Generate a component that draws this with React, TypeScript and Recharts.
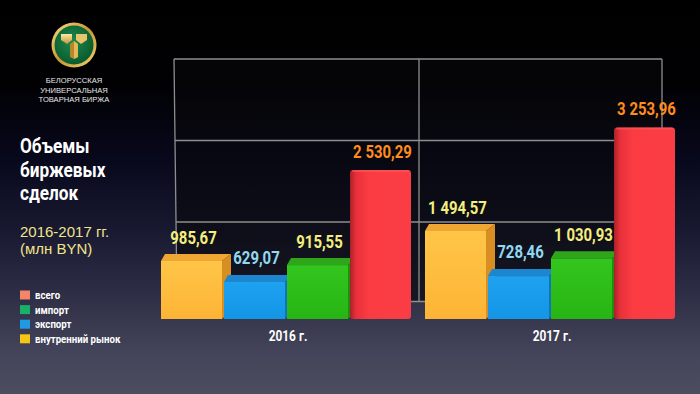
import React from 'react';
import { BarChart, Bar, XAxis, YAxis, LabelList } from 'recharts';

const years = ['2016 г.', '2017 г.'];
const domesticValues = [985.67, 1494.57];
const exportValues = [629.07, 728.46];
const importValues = [915.55, 1030.93];
const totalValues = [2530.29, 3253.96];

const legendLabels = ['всего', 'импорт', 'экспорт', 'внутренний рынок'];
const legendColors = ['#F4856B', '#17B169', '#1E9BE3', '#F6C614'];

const titleLines = ['Объемы', 'биржевых', 'сделок'];
const subtitleLines = ['2016-2017 гг.', '(млн BYN)'];
const logoLines = ['БЕЛОРУССКАЯ', 'УНИВЕРСАЛЬНАЯ', 'ТОВАРНАЯ БИРЖА'];

const data = years.map((year, i) => ({
  year,
  domestic: domesticValues[i],
  export: exportValues[i],
  import: importValues[i],
  total: totalValues[i],
}));

const COND = 'Roboto, "Noto Sans", sans-serif';
const ARIAL = '"Liberation Sans", Arial, sans-serif';

const fmt = (v: number) => {
  const [i, d] = v.toFixed(2).split('.');
  return i.replace(/\B(?=(\d{3})+(?!\d))/g, ' ') + ',' + d;
};

const NText = ({ x, y, sx, children, ...rest }: any) => (
  <text transform={`translate(${x},${y}) scale(${sx},1)`} x={0} y={0} fontFamily={COND} fontWeight={700} {...rest}>
    {children}
  </text>
);

const makeBox = (front: string, frontLight: string, top: string, side: string, id: string) => (props: any) => {
  const { x, y, width, height } = props;
  if (!height || height <= 0) return null;
  const d = 7;
  const s = 9;
  return (
    <g>
      <defs>
        <linearGradient id={id} x1="0" y1="0" x2="0" y2="1">
          <stop offset="0%" stopColor={frontLight} />
          <stop offset="100%" stopColor={front} />
        </linearGradient>
      </defs>
      <polygon
        points={`${x + width},${y} ${x + width + s},${y - d} ${x + width + s},${y + height - d - 1} ${x + width},${y + height}`}
        fill={side}
      />
      <polygon
        points={`${x},${y} ${x + width},${y} ${x + width + s},${y - d} ${x + 4},${y - d}`}
        fill={top}
      />
      <rect x={x} y={y} width={width} height={height} fill={`url(#${id})`} />
    </g>
  );
};

const RedShape = (props: any) => {
  const { x, y, width, height } = props;
  if (!height || height <= 0) return null;
  return (
    <g>
      <defs>
        <linearGradient id="redGrad" x1="0" y1="0" x2="1" y2="0">
          <stop offset="0%" stopColor="#A9222A" />
          <stop offset="10%" stopColor="#E8303A" />
          <stop offset="30%" stopColor="#FA3B42" />
          <stop offset="100%" stopColor="#FA3D45" />
        </linearGradient>
      </defs>
      <rect x={x} y={y} width={width} height={height} rx={3} ry={3} fill="url(#redGrad)" />
      <rect x={x + 2} y={y} width={width - 4} height={2} rx={1} fill="#FF5A60" opacity={0.6} />
    </g>
  );
};

const makeLabel = (color: string, gap: number) => (props: any) => {
  const { x, y, width, value } = props;
  return (
    <NText x={x + width / 2 + 2} y={y - gap} sx={0.83} textAnchor="middle" fill={color} fontSize={18}>
      {fmt(value)}
    </NText>
  );
};

const YearTick = (props: any) => {
  const { x, y, payload } = props;
  return (
    <NText x={x + 2} y={y + 14} sx={0.85} textAnchor="middle" fill="#FFFFFF" fontSize={14}>
      {payload.value}
    </NText>
  );
};

const Logo = () => (
  <g>
    <defs>
      <linearGradient id="goldRing" x1="0" y1="0" x2="1" y2="1">
        <stop offset="0%" stopColor="#F7E08A" />
        <stop offset="50%" stopColor="#C9962E" />
        <stop offset="100%" stopColor="#F2D277" />
      </linearGradient>
      <radialGradient id="greenDisc" cx="0.45" cy="0.4" r="0.6">
        <stop offset="0%" stopColor="#1C8A4C" />
        <stop offset="100%" stopColor="#0A5A2E" />
      </radialGradient>
      <linearGradient id="goldY" x1="0" y1="0" x2="0" y2="1">
        <stop offset="0%" stopColor="#FBE9A6" />
        <stop offset="100%" stopColor="#C89436" />
      </linearGradient>
    </defs>
    <circle cx={74} cy={45} r={22.5} fill="url(#goldRing)" />
    <circle cx={74} cy={45} r={19.5} fill="url(#greenDisc)" />
    <polygon points="61,34 72,34 72,40 67,44 61,40" fill="url(#goldY)" />
    <polygon points="76,34 87,34 87,40 81,44 76,40" fill="#E9C46A" />
    <polygon points="70,44 74,41 78,44 78,57 74,59 70,57" fill="#B8862E" />
    <polygon points="74,41 78,44 78,57 74,59" fill="#E1B955" />
    {logoLines.map((t, i) => (
      <text key={t} x={74} y={83 + i * 9.5} textAnchor="middle" fill="#E8E8E8" fontFamily={ARIAL} fontSize={7.6}>
        {t}
      </text>
    ))}
  </g>
);

export default function App() {
  const gx = [175, 419, 662];
  const gy = [59, 140.5, 222, 301.5];
  return (
    <div
      style={{
        position: 'fixed',
        left: 0,
        top: 0,
        width: 700,
        height: 394,
        overflow: 'hidden',
        background:
          'linear-gradient(180deg, #000000 0%, #010104 22%, #08081c 40%, #181830 58%, #2e2e46 75%, #44445a 90%, #4d4d60 100%)',
      }}
    >
      <svg width={700} height={394} style={{ position: 'absolute', left: 0, top: 0 }}>
        <Logo />
        <polygon
          points={`${gx[0] - 1},${gy[0]} ${gx[2]},${gy[0]} ${gx[2]},${gy[3]} ${gx[0] + 2},${gy[3]}`}
          fill="rgba(8,8,12,0.6)"
        />
        {gy.map((yy) => (
          <line key={yy} x1={gx[0] - 1 + ((yy - gy[0]) / (gy[3] - gy[0])) * 3} x2={gx[2]} y1={yy} y2={yy} stroke="#8E8E8E" strokeWidth={1.3} />
        ))}
        <line x1={gx[0] - 1} y1={gy[0]} x2={gx[0] + 2} y2={gy[3]} stroke="#8E8E8E" strokeWidth={1.3} />
        <line x1={gx[1]} y1={gy[0]} x2={gx[1]} y2={gy[3]} stroke="#8E8E8E" strokeWidth={1.3} />
        <line x1={gx[2]} y1={gy[0]} x2={gx[2]} y2={gy[3]} stroke="#8E8E8E" strokeWidth={1.3} />
        {titleLines.map((t, i) => (
          <NText key={t} x={20} y={153 + i * 23.5} sx={0.86} fill="#FFFFFF" fontSize={20}>
            {t}
          </NText>
        ))}
        {subtitleLines.map((t, i) => (
          <text key={t} x={20} y={236.5 + i * 17} fill="#F1E58A" fontFamily={ARIAL} fontSize={15}>
            {t}
          </text>
        ))}
        {legendLabels.map((t, i) => (
          <g key={t}>
            <rect x={20} y={290.5 + i * 14.6} width={10} height={9} fill={legendColors[i]} />
            <NText x={35} y={299 + i * 14.6} sx={0.84} fill="#FFFFFF" fontSize={11.5}>
              {t}
            </NText>
          </g>
        ))}
      </svg>
      <div style={{ position: 'absolute', left: 0, top: 0 }}>
        <BarChart
          width={700}
          height={394}
          data={data}
          margin={{ top: 107, right: 18, bottom: 45, left: 154 }}
          barSize={61}
          barGap={2}
        >
          <XAxis dataKey="year" axisLine={false} tickLine={false} height={30} tick={<YearTick />} interval={0} />
          <YAxis hide domain={[0, 3600]} />
          <Bar dataKey="domestic" isAnimationActive={false} shape={makeBox('#FDB436', '#FFC547', '#F0A632', '#D98E22', 'gY')}>
            <LabelList dataKey="domestic" content={makeLabel('#F4EE7E', 17)} />
          </Bar>
          <Bar dataKey="export" isAnimationActive={false} shape={makeBox('#1495E6', '#1EA2F0', '#1C86CE', '#0F74B8', 'gB')}>
            <LabelList dataKey="export" content={makeLabel('#8FD9F2', 18)} />
          </Bar>
          <Bar dataKey="import" isAnimationActive={false} shape={makeBox('#27B514', '#33C61E', '#2FA61A', '#1E8E10', 'gG')}>
            <LabelList dataKey="import" content={makeLabel('#F4EE7E', 17)} />
          </Bar>
          <Bar dataKey="total" isAnimationActive={false} shape={<RedShape />}>
            <LabelList dataKey="total" content={makeLabel('#FF8C1C', 12)} />
          </Bar>
        </BarChart>
      </div>
    </div>
  );
}
